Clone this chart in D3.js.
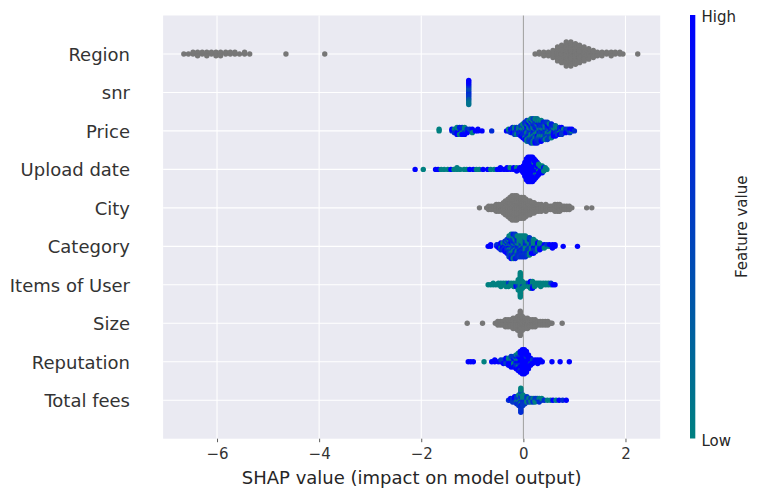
<!DOCTYPE html>
<html>
<head>
<meta charset="utf-8">
<script src="https://cdn.jsdelivr.net/npm/d3@7"></script>
<style>
    body { margin: 0; background: #ffffff; }
    text { font-family: "DejaVu Sans", sans-serif; }
</style>
</head>
<body>
<div id="chart"></div>
<script>
// features, top row first
const features = ["Region", "snr", "Price", "Upload date", "City", "Category",
    "Items of User", "Size", "Reputation", "Total fees"];

const xTicks = [-6, -4, -2, 0, 2];

// Each entry: [shap value, points stacked at that value]
// gray rows (no feature value): a count
// coloured rows: one digit per point, 0 = low feature value ... 9 = high
const region = [[-6.65, 1], [-6.56, 1], [-6.47, 2], [-6.38, 3], [-6.29, 2], [-6.20, 3], [-6.11, 2],
    [-6.02, 3], [-5.93, 3], [-5.83, 2], [-5.74, 2], [-5.65, 2], [-5.56, 1], [-5.46, 2], [-5.36, 1],
    [-4.65, 1], [-3.89, 1],
    [0.23, 1], [0.31, 2], [0.40, 3], [0.49, 3], [0.58, 5], [0.67, 9], [0.75, 11], [0.84, 15],
    [0.93, 15], [1.02, 13], [1.10, 11], [1.19, 9], [1.28, 7], [1.37, 5], [1.45, 3], [1.54, 3],
    [1.63, 2], [1.72, 3], [1.80, 2], [1.89, 2], [1.95, 1], [2.24, 1]];

const snr = [[-1.07, "756454563829191"]];

const price = [[-1.65, "00"], [-1.40, "69"], [-1.35, "906"], [-1.30, "05909"], [-1.25, "60970"],
    [-1.20, "09069"], [-1.15, "90609"], [-1.10, "069"], [-1.05, "95"], [-1.00, "690"], [-0.94, "9"],
    [-0.89, "99"], [-0.81, "9"], [-0.62, "6"],
    [-0.33, "9"], [-0.29, "60"], [-0.25, "096"], [-0.21, "0596"], [-0.17, "61705"], [-0.13, "07560"],
    [-0.09, "50716"], [-0.05, "0670559"], [-0.01, "516075609"], [0.03, "05716065069"],
    [0.07, "5706195075061"], [0.11, "0560517609505"], [0.15, "516507061057605"],
    [0.19, "057061075560150"], [0.23, "705706560515709"], [0.27, "560705906750517"],
    [0.31, "5170560716505"], [0.35, "0750560517609"], [0.39, "50716705076"], [0.43, "07506150560"],
    [0.47, "57050769055"], [0.51, "505709605"], [0.55, "570516570"], [0.59, "0570969"],
    [0.63, "5070519"], [0.67, "06505"], [0.71, "59069"], [0.75, "90595"], [0.79, "905"],
    [0.83, "069"], [0.87, "95"], [0.91, "095"], [0.95, "09"], [1.00, "6"]];

const uploadDate = [[-2.12, "9"], [-1.96, "0"], [-1.72, "9"], [-1.67, "9"], [-1.61, "0"], [-1.55, "0"],
    [-1.48, "0"], [-1.42, "9"], [-1.36, "0"], [-1.30, "00"], [-1.24, "0"], [-1.16, "0"], [-1.11, "0"],
    [-1.05, "9"], [-0.98, "9"], [-0.92, "0"], [-0.86, "0"], [-0.79, "9"], [-0.70, "9"], [-0.64, "0"],
    [-0.57, "0"], [-0.51, "9"], [-0.45, "99"], [-0.38, "9"], [-0.32, "99"], [-0.26, "90"],
    [-0.19, "99"], [-0.13, "909"], [-0.07, "99"], [-0.03, "999"],
    [0.00, "99999"], [0.03, "999999999"], [0.06, "9999999999999"], [0.09, "999999999999999"],
    [0.12, "999999999999999"], [0.15, "999999999999999"], [0.18, "999999999999999"],
    [0.21, "9999999099999"], [0.24, "99999909999"], [0.27, "909999099"], [0.30, "9909909"],
    [0.33, "09909"], [0.37, "90909"], [0.40, "090"], [0.43, "00"], [0.46, "0"]];

const city = [[-0.86, 1], [-0.72, 1], [-0.68, 3], [-0.63, 3], [-0.58, 3], [-0.53, 5], [-0.48, 5],
    [-0.43, 5], [-0.39, 7], [-0.35, 9], [-0.30, 11], [-0.26, 13], [-0.22, 15], [-0.17, 15],
    [-0.13, 15], [-0.08, 13], [-0.04, 13], [0.01, 13], [0.05, 11], [0.09, 9], [0.13, 9], [0.17, 7],
    [0.21, 7], [0.26, 5], [0.30, 5], [0.35, 5], [0.39, 3], [0.44, 5], [0.48, 3], [0.53, 3],
    [0.57, 3], [0.62, 5], [0.67, 5], [0.71, 5], [0.76, 3], [0.80, 3], [0.85, 3], [0.90, 3],
    [0.95, 1], [1.24, 1], [1.34, 1]];

const category = [[-0.69, "9"], [-0.64, "99"], [-0.52, "96"], [-0.48, "969"], [-0.44, "69096"],
    [-0.40, "96906"], [-0.36, "6950969"], [-0.32, "906950659"], [-0.28, "6095067059605"],
    [-0.24, "506709560570609"], [-0.20, "065057060560570"], [-0.16, "507605706065057"],
    [-0.12, "0570560607506"], [-0.08, "5060507060605"], [-0.04, "0506705060506"],
    [0.00, "5050605070506"], [0.04, "0507050560506"], [0.08, "05065050605"], [0.12, "50605057050"],
    [0.16, "050605059"], [0.20, "509050509"], [0.24, "5090505"], [0.28, "05090"], [0.32, "90509"],
    [0.36, "009"], [0.41, "590"], [0.46, "05"], [0.51, "09"], [0.57, "999"], [0.62, "99"],
    [0.78, "9"], [1.06, "9"]];

const itemsOfUser = [[-0.69, "0"], [-0.64, "0"], [-0.59, "00"], [-0.54, "0"], [-0.49, "00"],
    [-0.44, "000"], [-0.39, "00"], [-0.34, "000"], [-0.29, "050"], [-0.24, "00"], [-0.19, "000"],
    [-0.14, "909"], [-0.10, "0050500"], [-0.06, "000000000000000"], [-0.02, "00500"], [0.02, "000"],
    [0.06, "00"], [0.10, "050"], [0.14, "09090"], [0.18, "90509"], [0.22, "000"], [0.26, "00"],
    [0.30, "00"], [0.34, "000"], [0.39, "00"], [0.44, "00"], [0.49, "00"], [0.54, "05"],
    [0.58, "9"], [0.62, "9"]];

const size = [[-1.10, 1], [-0.80, 1], [-0.55, 1], [-0.50, 3], [-0.45, 3], [-0.40, 3], [-0.35, 5],
    [-0.30, 5], [-0.25, 5], [-0.20, 7], [-0.15, 7], [-0.11, 9], [-0.06, 15], [-0.02, 9], [0.03, 7],
    [0.08, 7], [0.13, 5], [0.18, 5], [0.23, 5], [0.28, 3], [0.33, 3], [0.38, 3], [0.43, 3],
    [0.48, 3], [0.53, 1], [0.56, 1], [0.76, 1]];

const reputation = [[-1.08, "9"], [-1.03, "9"], [-0.98, "9"], [-0.77, "0"], [-0.62, "9"],
    [-0.56, "99"], [-0.49, "9"], [-0.44, "95"], [-0.39, "959"], [-0.34, "5959"], [-0.29, "95909"],
    [-0.24, "9590959"], [-0.19, "9509059"], [-0.14, "959059509"], [-0.10, "95905905909"],
    [-0.06, "9999599599599"], [-0.02, "999999999999999"], [0.02, "999999999999999"],
    [0.06, "9999959999999"], [0.10, "999999999"], [0.14, "99599"], [0.18, "959"], [0.23, "99"],
    [0.28, "999"], [0.33, "99"], [0.37, "9"], [0.56, "9"], [0.72, "9"], [0.90, "9"]];

const totalFees = [[-0.29, "6"], [-0.25, "69"], [-0.21, "565"], [-0.17, "6959"], [-0.13, "65056"],
    [-0.09, "6505605"], [-0.05, "505605706560506"], [-0.01, "5060505"], [0.03, "50605"],
    [0.07, "0505"], [0.11, "505"], [0.15, "050"], [0.19, "506"], [0.23, "050"], [0.27, "05"],
    [0.31, "506"], [0.36, "50"], [0.41, "6"], [0.47, "0"], [0.53, "0"], [0.58, "9"], [0.64, "0"],
    [0.70, "9"], [0.77, "6"], [0.84, "9"]];

const rows = [region, snr, price, uploadDate, city, category, itemsOfUser, size, reputation, totalFees];

// Set up dimensions
let width = 760, height = 497;
let plot = {left: 163.1, right: 660.2, top: 15.5, bottom: 438.7};

let svg = d3.select("#chart").append("svg")
    .attr("width", width)
    .attr("height", height);

// Scales
let xScale = d3.scaleLinear()
    .domain([-7.056, 2.68])
    .range([plot.left, plot.right]);

let yScale = d3.scaleLinear()
    .domain([-1, features.length])
    .range([plot.bottom, plot.top]);

let colorScale = d3.scaleLinear()
    .domain([0, 9])
    .range(["#008080", "#0000ff"])
    .interpolate(d3.interpolateRgb);

function rowPos(i) {
    return features.length - 1 - i;
}

// Background and grid
svg.append("rect")
    .attr("x", plot.left)
    .attr("y", plot.top)
    .attr("width", plot.right - plot.left)
    .attr("height", plot.bottom - plot.top)
    .attr("fill", "#eaeaf2");

svg.append("g").selectAll("line")
    .data(xTicks)
    .enter().append("line")
    .attr("x1", d => xScale(d))
    .attr("x2", d => xScale(d))
    .attr("y1", plot.top)
    .attr("y2", plot.bottom)
    .attr("stroke", "#ffffff")
    .attr("stroke-width", 1.1);

svg.append("g").selectAll("line")
    .data(features)
    .enter().append("line")
    .attr("x1", plot.left)
    .attr("x2", plot.right)
    .attr("y1", (d, i) => yScale(rowPos(i)))
    .attr("y2", (d, i) => yScale(rowPos(i)))
    .attr("stroke", "#ffffff")
    .attr("stroke-width", 1.1);

// zero line
svg.append("line")
    .attr("x1", xScale(0))
    .attr("x2", xScale(0))
    .attr("y1", plot.top)
    .attr("y2", plot.bottom)
    .attr("stroke", "#999999")
    .attr("stroke-width", 1);

// Stack the points of each value like the shap beeswarm: 0, +1, -1, +2, -2 ...
let points = [];
rows.forEach(function (entries, i) {
    let count = e => typeof e[1] === "number" ? e[1] : e[1].length;
    let kmax = d3.max(entries, e => Math.ceil((count(e) - 1) / 2));
    let step = 0.9 * 0.4 / (kmax + 1);
    entries.forEach(function (e) {
        for (let layer = 0; layer < count(e); layer++) {
            let off = Math.ceil(layer / 2) * ((layer % 2) * 2 - 1);
            points.push({
                shap: e[0],
                pos: rowPos(i) + off * step,
                fv: typeof e[1] === "number" ? null : +e[1][layer]
            });
        }
    });
});

svg.append("g").selectAll("circle")
    .data(points)
    .enter().append("circle")
    .attr("cx", d => xScale(d.shap))
    .attr("cy", d => yScale(d.pos))
    .attr("r", 2.7)
    .attr("fill", d => d.fv === null ? "#777777" : colorScale(d.fv));

// x axis
let xAxis = d3.axisBottom(xScale)
    .tickValues(xTicks)
    .tickSize(3.5)
    .tickPadding(6.5);

let gx = svg.append("g")
    .attr("transform", "translate(0," + plot.bottom + ")")
    .call(xAxis);
gx.select(".domain").remove();
gx.selectAll(".tick line").attr("stroke", "#333333").attr("stroke-width", 0.8);
gx.selectAll(".tick text")
    .attr("fill", "#333333")
    .style("font-size", "15px")
    .style("font-family", "'DejaVu Sans', sans-serif");

svg.append("text")
    .attr("x", (plot.left + plot.right) / 2)
    .attr("y", 484)
    .attr("text-anchor", "middle")
    .attr("fill", "#262626")
    .style("font-size", "18px")
    .text("SHAP value (impact on model output)");

// feature labels
svg.append("g").selectAll("text")
    .data(features)
    .enter().append("text")
    .attr("x", 130)
    .attr("y", (d, i) => yScale(rowPos(i)) + 6.8)
    .attr("text-anchor", "end")
    .attr("fill", "#333333")
    .style("font-size", "18px")
    .text(d => d);

// Colour bar
let defs = svg.append("defs");
let grad = defs.append("linearGradient")
    .attr("id", "cbar")
    .attr("x1", 0).attr("y1", 1)
    .attr("x2", 0).attr("y2", 0);
grad.append("stop").attr("offset", "0%").attr("stop-color", colorScale(0));
grad.append("stop").attr("offset", "100%").attr("stop-color", colorScale(9));

let cbar = {x: 690, w: 5.3, top: 15, bottom: 438.5};

svg.append("rect")
    .attr("x", cbar.x)
    .attr("y", cbar.top)
    .attr("width", cbar.w)
    .attr("height", cbar.bottom - cbar.top)
    .attr("fill", "url(#cbar)");

svg.append("text")
    .attr("x", 701.5)
    .attr("y", cbar.top + 7.3)
    .attr("fill", "#262626")
    .style("font-size", "15px")
    .text("High");

svg.append("text")
    .attr("x", 701.5)
    .attr("y", cbar.bottom + 7.7)
    .attr("fill", "#262626")
    .style("font-size", "15px")
    .text("Low");

svg.append("text")
    .attr("transform", "translate(747," + ((cbar.top + cbar.bottom) / 2) + ") rotate(-90)")
    .attr("text-anchor", "middle")
    .attr("fill", "#262626")
    .style("font-size", "15px")
    .text("Feature value");
</script>
</body>
</html>
